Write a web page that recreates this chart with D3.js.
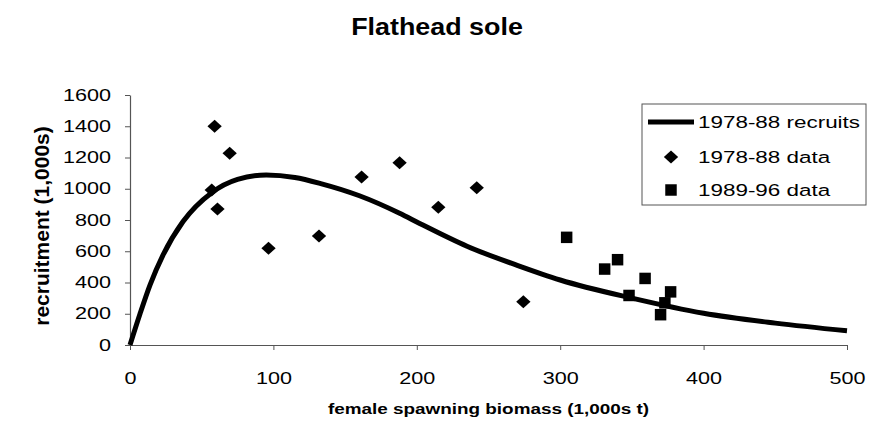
<!DOCTYPE html>
<html>
<head>
<meta charset="utf-8">
<script src="https://cdn.jsdelivr.net/npm/d3@7"></script>
<style>
  body { margin: 0; background: #fff; }
  text { font-family: "Liberation Sans", Arial, sans-serif; fill: #000; }
</style>
</head>
<body>
<div id="chart"></div>
<script>
// values
const title = "Flathead sole"
const xLabel = "female spawning biomass (1,000s t)"
const yLabel = "recruitment (1,000s)"
const xTicks = [0, 100, 200, 300, 400, 500]
const yTicks = [0, 200, 400, 600, 800, 1000, 1200, 1400, 1600]

// 1978-88 fitted recruitment curve
const fitBiomass = [0, 7, 14, 23, 37, 57, 75, 95, 115, 133, 160, 188, 202, 235, 270, 300, 350, 400, 450, 500]
const fitRecruits = [0, 200, 385, 575, 790, 975, 1060, 1088, 1072, 1033, 955, 843, 778, 632, 510, 416, 300, 203, 140, 91]

// 1978-88 observations
const biomass7888 = [59, 69.5, 57, 61, 96.6, 131.8, 161.5, 188, 215, 241.8, 274.3]
const recruits7888 = [1400, 1228, 992, 870, 619, 697, 1075, 1167, 881, 1007, 277]

// 1989-96 observations
const biomass8996 = [304.5, 331, 340, 359.2, 348, 377, 370, 373]
const recruits8996 = [689, 486, 546, 426, 317, 340, 194, 270]

const legendLabels = ["1978-88 recruits", "1978-88 data", "1989-96 data"]

const drawChart = () => {
  const fit = fitBiomass.map((d, i) => ({ x: d, y: fitRecruits[i] }))
  const early = biomass7888.map((d, i) => ({ x: d, y: recruits7888[i] }))
  const late = biomass8996.map((d, i) => ({ x: d, y: recruits8996[i] }))

  const xAccessor = d => d.x
  const yAccessor = d => d.y

  // the scanned figure is stretched sideways, so text is widened too
  const stretch = 1.35

  let dimensions = {
    width: 869,
    height: 427,
    margin: {
      top: 95,
      right: 22,
      bottom: 82,
      left: 130,
    },
  }
  dimensions.boundedWidth = dimensions.width
    - dimensions.margin.left
    - dimensions.margin.right
  dimensions.boundedHeight = dimensions.height
    - dimensions.margin.top
    - dimensions.margin.bottom

  const wrapper = d3.select("#chart")
    .append("svg")
      .attr("width", dimensions.width)
      .attr("height", dimensions.height)

  const bounds = wrapper.append("g")
    .attr("transform", `translate(${dimensions.margin.left}, ${dimensions.margin.top})`)

  const xScale = d3.scaleLinear()
    .domain([0, 500])
    .range([0, dimensions.boundedWidth])
  const yScale = d3.scaleLinear()
    .domain([0, 1600])
    .range([dimensions.boundedHeight, 0])

  // axes
  const xAxisGenerator = d3.axisBottom(xScale)
    .tickValues(xTicks)
    .tickFormat(d3.format("d"))
    .tickSizeInner(5)
    .tickSizeOuter(0)
    .tickPadding(23)
  const xAxis = bounds.append("g")
    .attr("transform", `translate(0, ${dimensions.boundedHeight})`)
    .call(xAxisGenerator)

  const yAxisGenerator = d3.axisLeft(yScale)
    .tickValues(yTicks)
    .tickFormat(d3.format("d"))
    .tickSizeInner(5)
    .tickSizeOuter(0)
    .tickPadding(9)
  const yAxis = bounds.append("g")
    .call(yAxisGenerator)

  ;[xAxis, yAxis].forEach(axis => {
    axis.select(".domain").attr("stroke", "#555").attr("stroke-width", 1.2)
    axis.selectAll(".tick line").attr("stroke", "#555")
    axis.selectAll(".tick text")
      .style("font-family", "'Liberation Sans', Arial, sans-serif")
      .style("font-size", "16px")
      .attr("fill", "#000")
      .attr("transform", `scale(${stretch}, 1)`)
  })

  // fitted curve
  const lineGenerator = d3.line()
    .x(d => xScale(xAccessor(d)))
    .y(d => yScale(yAccessor(d)))
    .curve(d3.curveMonotoneX)

  bounds.append("path")
    .datum(fit)
      .attr("fill", "none")
      .attr("stroke", "#000")
      .attr("stroke-width", 5)
      .attr("stroke-linejoin", "round")
      .attr("d", lineGenerator)

  // markers
  const diamond = {
    draw(context, size) {
      const w = Math.sqrt(size) * 0.55
      const h = Math.sqrt(size) * 0.5
      context.moveTo(0, -h)
      context.lineTo(w, 0)
      context.lineTo(0, h)
      context.lineTo(-w, 0)
      context.closePath()
    },
  }
  const diamondPath = d3.symbol().type(diamond).size(169)()
  const squarePath = d3.symbol().type(d3.symbolSquare).size(132)()

  bounds.append("g")
    .selectAll("path")
    .data(early)
    .join("path")
      .attr("d", diamondPath)
      .attr("fill", "#000")
      .attr("transform", d => `translate(${xScale(xAccessor(d))}, ${yScale(yAccessor(d))})`)

  bounds.append("g")
    .selectAll("path")
    .data(late)
    .join("path")
      .attr("d", squarePath)
      .attr("fill", "#000")
      .attr("transform", d => `translate(${xScale(xAccessor(d))}, ${yScale(yAccessor(d))})`)

  // title and axis labels
  wrapper.append("text")
    .attr("transform", `translate(437, 35) scale(1.12, 1)`)
    .attr("text-anchor", "middle")
    .style("font-size", "24px")
    .style("font-weight", "bold")
    .text(title)

  wrapper.append("text")
    .attr("transform", `translate(${dimensions.margin.left + dimensions.boundedWidth / 2}, 414) scale(1.22, 1)`)
    .attr("text-anchor", "middle")
    .style("font-size", "15.5px")
    .style("font-weight", "bold")
    .text(xLabel)

  wrapper.append("text")
    .attr("transform", `translate(49, 226) rotate(-90)`)
    .attr("text-anchor", "middle")
    .style("font-size", "21px")
    .style("font-weight", "bold")
    .text(yLabel)

  // legend
  const legend = wrapper.append("g")
    .attr("transform", "translate(642, 104)")

  legend.append("rect")
    .attr("width", 224)
    .attr("height", 101)
    .attr("fill", "#fff")
    .attr("stroke", "#555")
    .attr("stroke-width", 1)

  const rowY = [18, 53, 86]

  legend.append("line")
    .attr("x1", 6)
    .attr("x2", 52)
    .attr("y1", rowY[0])
    .attr("y2", rowY[0])
    .attr("stroke", "#000")
    .attr("stroke-width", 5)

  legend.append("path")
    .attr("d", diamondPath)
    .attr("transform", `translate(29, ${rowY[1]})`)

  legend.append("path")
    .attr("d", squarePath)
    .attr("transform", `translate(29, ${rowY[2]})`)

  legend.selectAll(".legend-label")
    .data(legendLabels)
    .join("text")
      .attr("class", "legend-label")
      .attr("transform", (d, i) => `translate(56, ${rowY[i] + 6}) scale(1.32, 1)`)
      .style("font-size", "17px")
      .text(d => d)
}

drawChart()
</script>
</body>
</html>
